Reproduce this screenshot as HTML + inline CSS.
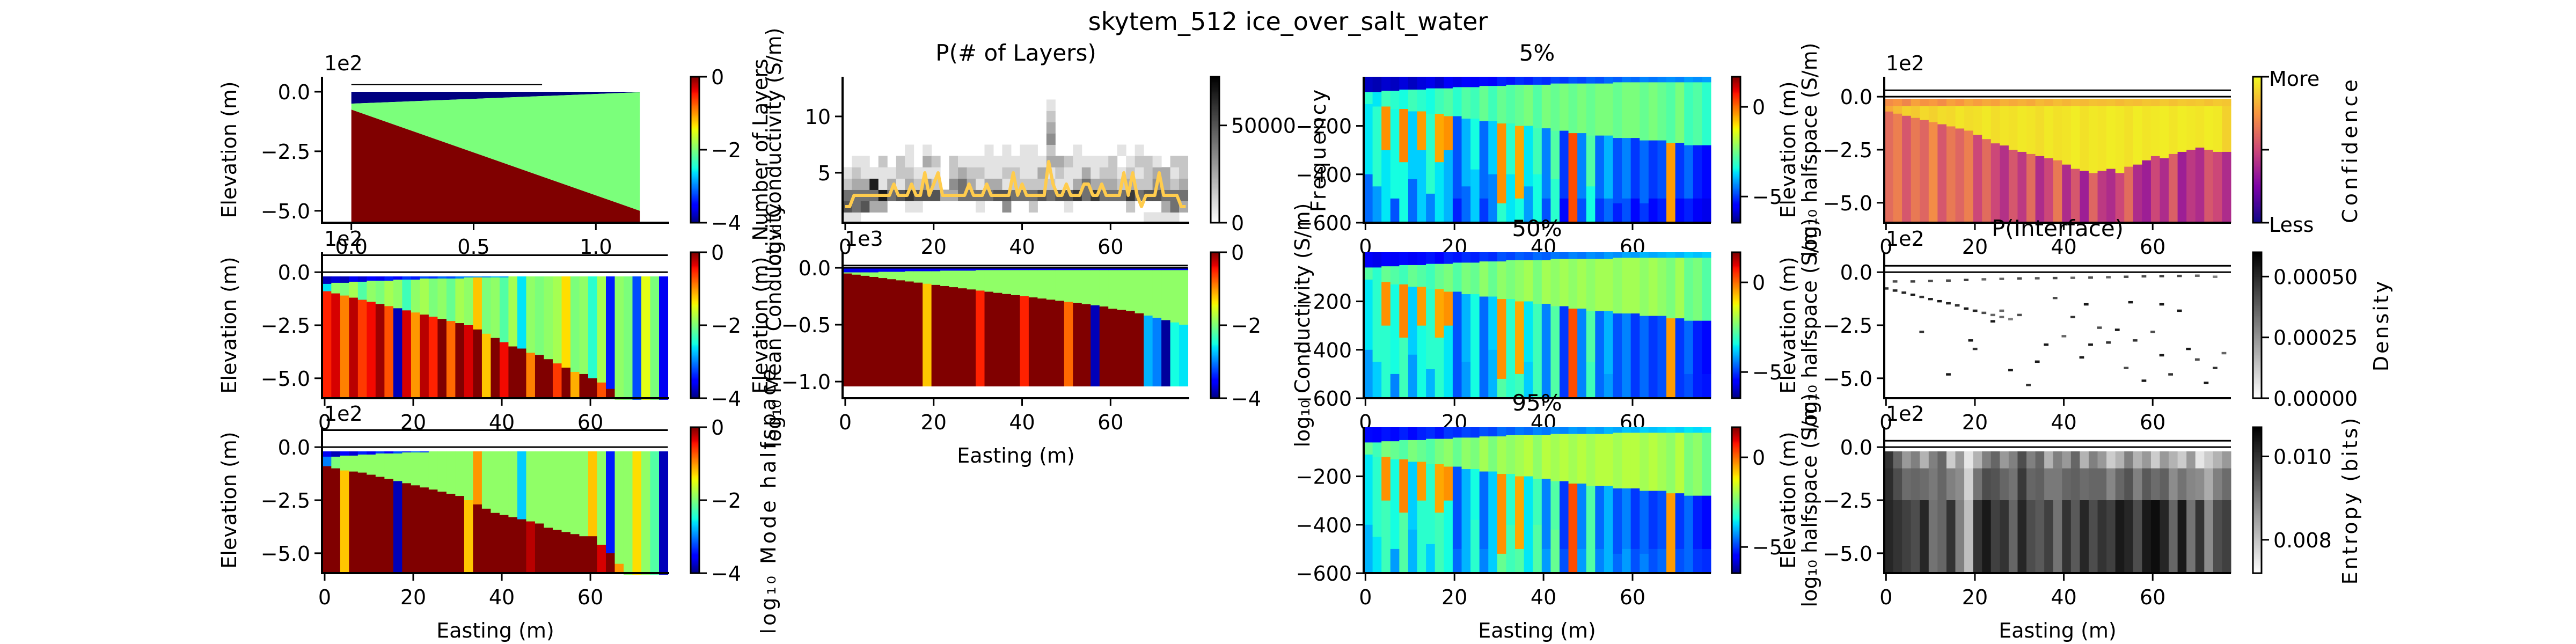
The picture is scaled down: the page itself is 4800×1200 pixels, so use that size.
<!DOCTYPE html>
<html><head><meta charset="utf-8"><style>
html,body{margin:0;padding:0;background:#fff}
svg{display:block}
text{font-family:"DejaVu Sans","Liberation Sans",sans-serif;fill:#000}
</style></head><body>
<svg id="fig" width="4800" height="1200" viewBox="0 0 4800 1200" xmlns="http://www.w3.org/2000/svg">
<rect width="4800" height="1200" fill="#fff"/>
<g id="layer"></g>
<g id="labels" font-size="38">
<text x="2400" y="56" font-size="46" text-anchor="middle">skytem_512 ice_over_salt_water</text>
<text x="1893" y="113" font-size="42" text-anchor="middle">P(# of Layers)</text>
<text x="2864" y="113" font-size="42" text-anchor="middle">5%</text>
<text x="2864" y="440" font-size="42" text-anchor="middle">50%</text>
<text x="2864" y="765" font-size="42" text-anchor="middle">95%</text>
<text x="3834" y="440" font-size="42" text-anchor="middle">P(Interface)</text>
<text x="604" y="131">1e2</text>
<text x="604" y="458">1e2</text>
<text x="604" y="784">1e2</text>
<text x="1574" y="458">1e3</text>
<text x="3514" y="131">1e2</text>
<text x="3514" y="458">1e2</text>
<text x="3514" y="784">1e2</text>
<text transform="translate(440,279) rotate(-90)" text-anchor="middle">Elevation (m)</text>
<text transform="translate(440,606) rotate(-90)" text-anchor="middle">Elevation (m)</text>
<text transform="translate(440,932) rotate(-90)" text-anchor="middle">Elevation (m)</text>
<text transform="translate(1430,279) rotate(-90)" text-anchor="middle">Number of Layers</text>
<text transform="translate(1455,279) rotate(-90)" text-anchor="middle">log₁₀ Conductivity (S/m)</text>
<text transform="translate(1430,606) rotate(-90)" text-anchor="middle">Elevation (m)</text>
<text transform="translate(1455,606) rotate(-90)" text-anchor="middle">log₁₀ Mean Conductivity</text>
<text transform="translate(1445,932) rotate(-90)" text-anchor="middle" letter-spacing="5">log₁₀ Mode halfspace</text>
<text transform="translate(2470,279) rotate(-90)" text-anchor="middle" letter-spacing="4">Frequency</text>
<text transform="translate(2440,606) rotate(-90)" text-anchor="middle">log₁₀ Conductivity (S/m)</text>
<text transform="translate(3345,279) rotate(-90)" text-anchor="middle">Elevation (m)</text>
<text transform="translate(3385,279) rotate(-90)" text-anchor="middle">log₁₀ halfspace (S/m)</text>
<text transform="translate(3345,606) rotate(-90)" text-anchor="middle">Elevation (m)</text>
<text transform="translate(3385,606) rotate(-90)" text-anchor="middle">log₁₀ halfspace (S/m)</text>
<text transform="translate(3345,932) rotate(-90)" text-anchor="middle">Elevation (m)</text>
<text transform="translate(3385,932) rotate(-90)" text-anchor="middle">log₁₀ halfspace (S/m)</text>
<text transform="translate(4392,279) rotate(-90)" text-anchor="middle" letter-spacing="6">Confidence</text>
<text transform="translate(4450,606) rotate(-90)" text-anchor="middle" letter-spacing="4">Density</text>
<text transform="translate(4392,932) rotate(-90)" text-anchor="middle" letter-spacing="4">Entropy (bits)</text>
<text x="4228" y="160">More</text>
<text x="4228" y="432">Less</text>
<text x="923" y="1188" text-anchor="middle">Easting (m)</text>
<text x="1893" y="862" text-anchor="middle">Easting (m)</text>
<text x="2864" y="1188" text-anchor="middle">Easting (m)</text>
<text x="3834" y="1188" text-anchor="middle">Easting (m)</text>
</g>
</svg>
<script>
// ---------- data ----------
const trueX = [0, 1.18];
const trueIceBottom = [-0.5, -0.02];
const trueSaltTop = [-0.75, -5.0];
const modelLineY = 0.3;

const layerCounts = [2,2,3,3,3,3,3,3,3,3,3,4,3,3,3,4,3,3,5,3,4,5,3,3,3,3,3,3,4,3,3,3,4,3,3,3,3,3,5,3,4,3,3,3,3,3,6,4,3,3,4,3,3,3,4,4,3,3,4,3,3,3,3,5,3,5,3,2,3,3,3,5,3,3,3,3,2,2];
const histBins = [1,2,3,4,5,6,7,8,9,10,11];
const hist1  = "110000000000000000000000000000000011110";
const hist2  = "656330011000000100400200010000002000353";
const hist3  = "555585676663355556655565667575557566555";
const hist4  = "233813132420453133122222113533323224323";
const hist5  = "121111221110232211221131211312212123312";
const hist6  = "011020210320211111111113321111201221022";
const hist7  = "000000010100000010101102001000010100000";
const hist8  = "000000000000000000000004000000000000000";
const hist9  = "000000000000000000000003000000000000000";
const hist10 = "000000000000000000000002000000000000000";
const hist11 = "000000000000000000000001000000000000000";

// mean model (col1 row2), units 1e2 m, 2-m columns
const meanTop = [-0.55,-0.5,-0.5,-0.45,-0.45,-0.4,-0.4,-0.4,-0.35,-0.35,-0.35,-0.3,-0.3,-0.3,-0.3,-0.3,-0.25,-0.25,-0.25,-0.25,-0.25,-0.2,-0.2,-0.2,-0.2,-0.2,-0.2,-0.2,-0.2,-0.2,-0.2,-0.2,-0.2,-0.2,-0.2,-0.2,-0.2,-0.2,-0.2];
const meanTopVal = [-3.8,-3.7,-3.8,-3.6,-3.7,-3.5,-3.6,-3.4,-3.5,-3.3,-3.4,-3.2,-3.3,-3.1,-3.2,-3.0,-3.0,-2.9,-3.0,-2.8,-2.9,-2.8,-2.7,-2.8,-2.6,-2.7,-2.6,-2.6,-2.5,-2.6,-2.4,-2.5,-2.4,-2.5,-2.4,-2.3,-2.4,-2.3,-2.3];
const meanIface = [-0.9,-1.0,-1.1,-1.2,-1.3,-1.4,-1.5,-1.6,-1.7,-1.8,-1.9,-2.0,-2.1,-2.2,-2.3,-2.4,-2.5,-2.7,-2.9,-3.1,-3.3,-3.5,-3.6,-3.8,-3.9,-4.1,-4.3,-4.5,-4.7,-4.8,-5.0,-5.2,-5.5,-6,-6,-6,-6,-6,-6];
const meanMid = [-2.6,-1.9,-2.0,-1.8,-2.2,-1.9,-2.0,-1.8,-1.9,-2.3,-1.9,-1.8,-2.0,-1.9,-2.1,-1.8,-1.9,-1.2,-2.0,-1.9,-2.2,-1.8,-2.6,-1.9,-2.0,-1.9,-1.8,-1.3,-2.0,-1.9,-2.4,-1.8,-3.4,-1.9,-2.0,-3.2,-1.5,-2.0,-3.6];
const meanDeep = [-0.5,-0.3,-0.9,-0.2,-0.6,-0.4,-0.1,-0.7,-3.8,-0.3,-1.0,-0.2,-0.5,0,-0.8,0,-0.3,0,-1.2,0,-0.4,0,0,-0.9,0,0,-0.6,0,-1.1,0,0,-0.7,0,-1,-1,-1,-1,-1,-1];

// mode model (col1 row3)
const modeTop = [-0.45,-0.45,-0.4,-0.4,-0.35,-0.35,-0.3,-0.3,-0.3,-0.25,-0.25,-0.25,-0.2,-0.2,-0.2,-0.2,-0.2,-0.2,-0.2,-0.2,-0.2,-0.2,-0.2,-0.2,-0.2,-0.2,-0.2,-0.2,-0.2,-0.2,-0.2,-0.2,-0.2,-0.2,-0.2,-0.2,-0.2,-0.2,-0.2];
const modeTopVal = [-3.6,-3.8,-3.5,-3.7,-3.4,-3.6,-3.3,-3.5,-3.2,-3.4,-3.1,-3.3,-3.0,-3.2,-2.9,-3.0,-2.8,-2.9,-2.7,-2.8,-2.6,-2.7,-2.6,-2.5,-2.6,-2.4,-2.5,-2.4,-2.3,-2.4,-2.3,-2.3,-2.2,-2.3,-2.2,-2.2,-2.1,-2.2,-2.1];
const modeIface = [-0.9,-1.0,-1.1,-1.15,-1.2,-1.3,-1.4,-1.5,-1.6,-1.7,-1.8,-1.9,-2.0,-2.1,-2.2,-2.3,-2.5,-2.7,-2.9,-3.1,-3.2,-3.3,-3.4,-3.5,-3.6,-3.8,-3.9,-4.0,-4.1,-4.2,-4.2,-4.6,-5.0,-5.5,-6,-6,-6,-6,-6];
const modeMid = [-3.0,-2.0,-1.9,-1.9,-1.9,-1.9,-1.9,-1.9,-1.9,-1.9,-1.9,-1.9,-1.9,-1.9,-1.9,-1.9,-1.9,-1.0,-1.9,-1.9,-1.9,-1.9,-2.7,-1.9,-1.9,-1.9,-1.9,-1.9,-1.9,-1.9,-1.2,-1.9,-3.4,-1.9,-1.9,-1.3,-1.9,-2.2,-3.8];
const modeDeep = [0,0,-1.2,0,0,0,0,0,-3.8,0,0,0,0,0,0,0,-1.2,0,0,0,0,0,0,-0.2,0,0,0,0,0,0,0,-0.3,0,-1,-1,-1,-1,-1,-1];

// mean conductivity (col2 row2), units 1e3 m
const m2Top = [-0.04,-0.04,-0.04,-0.04,-0.035,-0.035,-0.035,-0.03,-0.03,-0.03,-0.03,-0.025,-0.025,-0.025,-0.025,-0.02,-0.02,-0.02,-0.02,-0.02,-0.02,-0.02,-0.02,-0.02,-0.02,-0.02,-0.02,-0.02,-0.02,-0.02,-0.02,-0.02,-0.02,-0.02,-0.02,-0.02,-0.02,-0.02,-0.02];
const m2Iface = [-0.05,-0.06,-0.07,-0.08,-0.09,-0.1,-0.11,-0.12,-0.13,-0.14,-0.15,-0.16,-0.17,-0.18,-0.19,-0.2,-0.21,-0.22,-0.23,-0.24,-0.25,-0.26,-0.27,-0.28,-0.29,-0.3,-0.31,-0.32,-0.33,-0.34,-0.36,-0.37,-0.38,-0.4,-0.42,-0.44,-0.46,-0.48,-0.5];
const m2Deep = [0,0,0,0,0,0,0,0,0,-1.2,0,0,0,0,0,-0.5,0,0,0,0,-0.5,0,0,0,0,-0.8,0,0,-3.8,0,0,0,0,0,-2.8,-3.0,-3.9,-2.5,-2.6];

// percentile panels (col3), metres
const pTop = [-60,-60,-55,-55,-50,-50,-50,-45,-45,-45,-40,-40,-40,-35,-35,-35,-30,-30,-30,-30,-30,-25,-25,-25,-25,-25,-25,-25,-20,-20,-20,-20,-20,-20,-20,-20,-20,-20,-20];
const pTopVal = [-5.8,-5.9,-5.7,-5.8,-5.6,-5.8,-5.6,-5.5,-5.7,-5.4,-5.5,-5.3,-5.4,-5.2,-5.3,-5.0,-5.1,-4.9,-5.0,-4.8,-4.9,-4.7,-4.8,-4.6,-4.7,-4.5,-4.6,-4.4,-4.5,-4.3,-4.4,-4.2,-4.3,-4.2,-4.1,-4.2,-4.0,-4.1,-4.0];
const pIface = [-110,-120,-120,-130,-130,-140,-140,-150,-150,-160,-160,-170,-170,-180,-180,-190,-190,-200,-200,-210,-210,-220,-220,-230,-230,-240,-240,-240,-250,-250,-250,-260,-260,-260,-270,-270,-280,-280,-280];
const pMidVal = [-3.0,-3.4,-2.8,-3.0,-3.2,-2.8,-3.0,-3.2,-2.8,-2.6,-3.0,-2.6,-2.8,-2.4,-2.8,-2.4,-2.6,-2.4,-2.2,-2.6,-2.2,-2.4,-2.2,-2.4,-2.2,-2.4,-2.2,-2.2,-2.4,-2.2,-2.2,-2.4,-2.2,-2.4,-2.6,-2.2,-2.8,-2.6,-3.0];
const pStreakVal = [-3.6,-3.2,-0.3,-3.4,-0.2,-3.8,-0.4,-3.2,-0.5,-0.3,-4.8,-4.0,-3.4,-4.6,-3.8,-0.3,-3.2,-0.5,-3.6,-3.0,-4.4,-2.8,-5.0,0.3,-4.4,-2.8,-4.6,-4.0,-4.8,-4.4,-5.0,-4.6,-5.0,-4.8,-0.4,-5.0,-4.6,-5.2,-5.4];
const pStreakBot = [-400,-450,-300,-500,-350,-420,-300,-480,-350,-300,-500,-450,-380,-500,-400,-520,-400,-500,-450,-400,-500,-420,-500,-600,-500,-450,-500,-500,-520,-500,-500,-520,-500,-500,-600,-500,-500,-500,-500];
const pDeepVal = [-4.4,-4.0,-3.4,-4.6,-3.2,-4.4,-3.6,-4.2,-3.4,-3.8,-5.0,-4.4,-3.6,-4.8,-4.2,-3.0,-3.4,-3.2,-4.0,-3.2,-4.6,-3.0,-5.2,-3.6,-4.6,-3.2,-4.8,-4.4,-5.0,-4.6,-5.2,-4.8,-5.2,-5.0,-2.8,-5.2,-5.0,-5.4,-5.5];
const pShift5 = -0.2, pShift50 = 0.2, pShift95 = 0.4;

// confidence (col4 row1), plasma fraction
const confIface = [-0.7,-0.8,-0.9,-1.0,-1.1,-1.2,-1.3,-1.4,-1.5,-1.6,-1.8,-2.0,-2.2,-2.3,-2.5,-2.6,-2.7,-2.8,-2.9,-3.0,-3.2,-3.4,-3.5,-3.6,-3.5,-3.4,-3.6,-3.3,-3.2,-3.0,-2.8,-2.9,-2.7,-2.6,-2.5,-2.4,-2.5,-2.6,-2.6];
const confTopVal = [0.72,0.75,0.7,0.78,0.74,0.76,0.72,0.78,0.75,0.8,0.77,0.8,0.78,0.82,0.8,0.82,0.8,0.84,0.82,0.85,0.83,0.85,0.84,0.86,0.85,0.86,0.84,0.86,0.85,0.87,0.86,0.88,0.86,0.88,0.87,0.88,0.86,0.88,0.87];
const confMidVal = [0.8,0.85,0.9,0.88,0.92,0.9,0.93,0.92,0.95,0.93,0.94,0.96,0.93,0.95,0.94,0.96,0.95,0.93,0.96,0.94,0.95,0.97,0.94,0.96,0.95,0.97,0.96,0.94,0.97,0.95,0.96,0.97,0.95,0.97,0.96,0.95,0.97,0.96,0.9];
const confDeep = [0.62,0.68,0.55,0.66,0.6,0.72,0.55,0.66,0.6,0.68,0.5,0.62,0.5,0.42,0.55,0.45,0.62,0.4,0.5,0.66,0.4,0.55,0.35,0.6,0.45,0.4,0.5,0.62,0.4,0.35,0.5,0.4,0.58,0.35,0.45,0.4,0.55,0.5,0.4];

// interface density points (x, elevation 1e2 m, darkness)
const densX = [0,2,4,6,8,10,12,14,16,18,20,22,24,26,28, 2,6,10,14,18,22,26,30,34,38,42,46,50,54,58,62,66,70,74, 19,20,24,28,30,32,34,36,40,42,44,46,48,50,52,54,55,56,58,60,62,64,66,68,70,72,74,76,45,38,26,62,8,14];
const densY = [-0.75,-0.85,-0.95,-1.05,-1.15,-1.25,-1.35,-1.45,-1.55,-1.7,-1.8,-1.9,-2.0,-2.1,-2.2, -0.42,-0.42,-0.4,-0.38,-0.35,-0.32,-0.3,-0.28,-0.27,-0.26,-0.25,-0.24,-0.22,-0.2,-0.18,-0.17,-0.16,-0.15,-0.2, -3.2,-3.6,-2.3,-4.6,-2.0,-5.3,-4.2,-3.4,-3.0,-2.1,-4.0,-3.4,-2.6,-3.3,-2.7,-4.5,-1.4,-3.2,-5.1,-2.8,-3.9,-4.8,-1.8,-3.6,-4.1,-5.2,-4.5,-3.8,-1.5,-1.2,-1.8,-1.5,-2.8,-4.8];
const densV = [0.8,0.85,0.85,0.9,0.8,0.85,0.9,0.85,0.8,0.9,0.85,0.7,0.6,0.6,0.5, 0.7,0.75,0.7,0.7,0.75,0.6,0.6,0.7,0.65,0.7,0.6,0.7,0.6,0.7,0.7,0.75,0.7,0.6,0.5, 0.9,0.8,0.9,0.9,0.7,0.8,0.9,0.9,0.6,0.8,0.9,0.9,0.7,0.8,0.9,0.7,0.9,0.8,0.9,0.7,0.9,0.8,0.9,0.9,0.7,0.9,0.8,0.6,0.9,0.7,0.6,0.9,0.8,0.9];

// entropy (col4 row3), darkness
const entTop = [0.8,0.6,0.4,0.5,0.3,0.5,0.6,0.2,0.4,0.1,0.3,0.5,0.6,0.4,0.5,0.7,0.5,0.6,0.3,0.5,0.4,0.6,0.3,0.5,0.4,0.2,0.3,0.5,0.3,0.4,0.2,0.4,0.3,0.2,0.4,0.1,0.2,0.3,0.4];
const entBot = [0.85,0.8,0.75,0.7,0.85,0.55,0.6,0.8,0.5,0.25,0.8,0.9,0.75,0.8,0.6,0.85,0.7,0.65,0.75,0.55,0.8,0.65,0.85,0.7,0.8,0.75,0.9,0.85,0.7,0.9,0.95,0.85,0.6,0.9,0.55,0.8,0.45,0.7,0.75];

const eastTicks = [0,20,40,60];
const elevTicks = [0,-2.5,-5];
const elevTickLabels = ["0.0","\u22122.5","\u22125.0"];

// ---------- helpers ----------
const NS = "http://www.w3.org/2000/svg";
const root = document.getElementById('layer');
function el(tag, attrs, parent) {
  const e = document.createElementNS(NS, tag);
  for (const k in attrs) e.setAttribute(k, attrs[k]);
  (parent || root).appendChild(e);
  return e;
}
function interp(stops, t) {
  t = Math.max(0, Math.min(1, t));
  for (let i = 1; i < stops.length; i++) {
    if (t <= stops[i][0]) {
      const a = stops[i-1], b = stops[i];
      const f = (t - a[0]) / (b[0] - a[0] || 1);
      return a[1] + f * (b[1] - a[1]);
    }
  }
  return stops[stops.length-1][1];
}
const JR = [[0,0],[0.35,0],[0.66,1],[0.89,1],[1,0.5]];
const JG = [[0,0],[0.125,0],[0.375,1],[0.64,1],[0.91,0],[1,0]];
const JB = [[0,0.5],[0.11,1],[0.34,1],[0.65,0],[1,0]];
function jet(t) {
  return `rgb(${Math.round(255*interp(JR,t))},${Math.round(255*interp(JG,t))},${Math.round(255*interp(JB,t))})`;
}
const PL = [[0,[13,8,135]],[0.25,[126,3,168]],[0.5,[204,71,120]],[0.75,[248,149,64]],[1,[240,249,33]]];
function plasma(t) {
  t = Math.max(0, Math.min(1, t));
  for (let i = 1; i < PL.length; i++) if (t <= PL[i][0]) {
    const f = (t - PL[i-1][0]) / (PL[i][0] - PL[i-1][0]);
    const c = PL[i-1][1].map((v, j) => Math.round(v + f * (PL[i][1][j] - v)));
    return `rgb(${c[0]},${c[1]},${c[2]})`;
  }
  return 'rgb(240,249,33)';
}
function grayR(d) { const v = Math.round(255 * (1 - Math.max(0, Math.min(1, d)))); return `rgb(${v},${v},${v})`; }

function makeAxes(px0, px1, py0, py1, xa, xb, ya, yb) {
  return {
    px0, px1, py0, py1,
    sx: v => px0 + (v - xa) / (xb - xa) * (px1 - px0),
    sy: v => py0 + (v - ya) / (yb - ya) * (py1 - py0)
  };
}
function spines(ax, name) {
  const s1 = el('line', {x1: ax.px0, y1: ax.py0, x2: ax.px0, y2: ax.py1 + 2, stroke: '#000', 'stroke-width': 4});
  
  
  const s2 = el('line', {x1: ax.px0 - 2, y1: ax.py1, x2: ax.px1, y2: ax.py1, stroke: '#000', 'stroke-width': 4});
  
  
}
function xticks(ax, vals, labels, showLabels, name) {
  vals.forEach((v, i) => {
    const x = ax.sx(v);
    const t = el('line', {x1: x, y1: ax.py1, x2: x, y2: ax.py1 + 14, stroke: '#000', 'stroke-width': 3});
    
    
    if (showLabels) {
      const tx = el('text', {x: x, y: ax.py1 + 58, 'font-size': 38, 'text-anchor': 'middle'});
      tx.textContent = labels[i];
      
      
    }
  });
}
function yticks(ax, vals, labels, name) {
  vals.forEach((v, i) => {
    const y = ax.sy(v);
    const t = el('line', {x1: ax.px0 - 14, y1: y, x2: ax.px0, y2: y, stroke: '#000', 'stroke-width': 3});
    
    
    const tx = el('text', {x: ax.px0 - 22, y: y + 14, 'font-size': 38, 'text-anchor': 'end'});
    tx.textContent = labels[i];
    
    
  });
}
function colorbar(x, y0, y1, cmap, vmin, vmax, ticks, labels, name) {
  const n = 120, h = (y1 - y0) / n;
  for (let i = 0; i < n; i++) {
    const r = el('rect', {x: x, y: y1 - (i + 1) * h, width: 16, height: h + 0.6, fill: cmap((i + 0.5) / n)});
    
    
  }
  const b = el('rect', {x: x, y: y0, width: 16, height: y1 - y0, fill: 'none', stroke: '#000', 'stroke-width': 3});
  
  
  ticks.forEach((v, i) => {
    const y = y1 - (v - vmin) / (vmax - vmin) * (y1 - y0);
    const t = el('line', {x1: x + 16, y1: y, x2: x + 30, y2: y, stroke: '#000', 'stroke-width': 3});
    
    
    if (labels[i] !== '') {
      const tx = el('text', {x: x + 38, y: y + 14, 'font-size': 38});
      tx.textContent = labels[i];
      
      
    }
  });
}
function cell(ax, x0, x1, ytop, ybot, fill, name) {
  const X0 = ax.sx(x0), X1 = ax.sx(x1), Y0 = ax.sy(ytop), Y1 = ax.sy(ybot);
  if (Y1 <= Y0) return;
  const r = el('rect', {x: X0, y: Y0, width: X1 - X0 + 0.5, height: Y1 - Y0 + 0.5, fill: fill});
  
  
}
function hline(ax, y, x0, x1, w, name) {
  const l = el('line', {x1: ax.sx(x0), y1: ax.sy(y), x2: ax.sx(x1), y2: ax.sy(y), stroke: '#000', 'stroke-width': w});
  
  
}
const ROWS = [[143, 415], [470, 742], [796, 1068]];
const colW = 2;
const jet4 = v => jet((v + 4) / 4);

// ---------- col1 row1: true model ----------
(function () {
  const ax = makeAxes(600, 1247, 143, 415, -0.12, 1.30, 0.63, -5.5);
  const P = (xs, ys) => xs.map((x, i) => ax.sx(x) + ',' + ax.sy(ys[i])).join(' ');
  let p = el('polygon', {points: P([trueX[0], trueX[1], trueX[1], trueX[0]], [0, 0, trueIceBottom[1], trueIceBottom[0]]), fill: jet(0)});
   
  p = el('polygon', {points: P([trueX[0], trueX[1], trueX[1], trueX[0]], [trueIceBottom[0], trueIceBottom[1], trueSaltTop[1], trueSaltTop[0]]), fill: jet(0.5)});
   
  p = el('polygon', {points: P([trueX[0], trueX[1], trueX[1], trueX[0]], [trueSaltTop[0], trueSaltTop[1], -5.5, -5.5]), fill: jet(1)});
   
  hline(ax, modelLineY, 0, 0.78, 2, 'true-model-line');
  spines(ax, 'true-model');
  xticks(ax, [0, 0.5, 1.0], ['0.0', '0.5', '1.0'], true, 'true-model');
  yticks(ax, elevTicks, elevTickLabels, 'true-model');
  colorbar(1287, 143, 415, jet, -4, 0, [0, -2, -4], ['0', '\u22122', '\u22124'], 'true-model-colorbar');
})();

// ---------- layered jet panels (col1 rows 2,3) ----------
function layeredPanel(row, top, topVal, iface, mid, deep, name) {
  const ax = makeAxes(600, 1247, ROWS[row][0], ROWS[row][1], -0.6, 77.8, 0.94, -5.94);
  top.forEach((d, i) => {
    const x0 = i * colW - 0.5, x1 = x0 + colW;
    cell(ax, x0, x1, -0.2, d, jet4(topVal[i]), name + '-top-cell');
    cell(ax, x0, x1, d, iface[i], jet4(mid[i]), name + '-mid-cell');
    cell(ax, x0, x1, iface[i], -5.94, jet4(deep[i]), name + '-deep-cell');
  });
  hline(ax, 0.8, -0.5, 77.5, 3, name + '-line-top');
  hline(ax, 0, -0.5, 77.5, 3, name + '-line-zero');
  spines(ax, name);
  xticks(ax, eastTicks, eastTicks.map(String), true, name);
  yticks(ax, elevTicks, elevTickLabels, name);
  colorbar(1287, ROWS[row][0], ROWS[row][1], jet, -4, 0, [0, -2, -4], ['0', '\u22122', '\u22124'], name + '-colorbar');
}
layeredPanel(1, meanTop, meanTopVal, meanIface, meanMid, meanDeep, 'mean-model');
layeredPanel(2, modeTop, modeTopVal, modeIface, modeMid, modeDeep, 'mode-model');

// ---------- col2 row1: layer histogram ----------
(function () {
  const ax = makeAxes(1570, 2216, 143, 415, -0.6, 77.8, 13.52, 0.57);
  const hists = [hist1, hist2, hist3, hist4, hist5, hist6, hist7, hist8, hist9, hist10, hist11];
  hists.forEach((s, b) => {
    for (let i = 0; i < s.length; i++) {
      const d = +s[i];
      if (d === 0) continue;
      cell(ax, i * colW - 0.5, i * colW + 1.5, histBins[b] + 0.5, histBins[b] - 0.5, grayR(d / 9), 'layer-hist-cell');
    }
  });
  const pts = layerCounts.map((v, i) => ax.sx(i) + ',' + ax.sy(v)).join(' ');
  const pl = el('polyline', {points: pts, fill: 'none', stroke: '#ffcc4d', 'stroke-width': 6, 'stroke-linejoin': 'round'});
  
  
  spines(ax, 'layer-hist');
  xticks(ax, eastTicks, eastTicks.map(String), true, 'layer-hist');
  yticks(ax, [5, 10], ['5', '10'], 'layer-hist');
  colorbar(2256, 143, 415, t => grayR(t), 0, 75000, [0, 50000], ['0', '50000'], 'layer-hist-colorbar');
})();

// ---------- col2 row2: mean conductivity ----------
(function () {
  const ax = makeAxes(1570, 2216, 470, 742, -0.6, 77.8, 0.137, -1.146);
  m2Iface.forEach((d, i) => {
    const x0 = i * colW - 0.5, x1 = x0 + colW;
    cell(ax, x0, x1, 0, m2Top[i], jet4(-3.6), 'mean-cond-top-cell');
    cell(ax, x0, x1, m2Top[i], d, jet4(-1.9), 'mean-cond-mid-cell');
    cell(ax, x0, x1, d, -1.04, jet4(m2Deep[i]), 'mean-cond-deep-cell');
  });
  hline(ax, 0.02, -0.5, 77.5, 3, 'mean-cond-line-top');
  hline(ax, 0, -0.5, 77.5, 3, 'mean-cond-line-zero');
  spines(ax, 'mean-cond');
  xticks(ax, eastTicks, eastTicks.map(String), true, 'mean-cond');
  yticks(ax, [0, -0.5, -1.0], ['0.0', '\u22120.5', '\u22121.0'], 'mean-cond');
  colorbar(2256, 470, 742, jet, -4, 0, [0, -2, -4], ['0', '\u22122', '\u22124'], 'mean-cond-colorbar');
})();

// ---------- col3: percentile panels ----------
function percentilePanel(row, shift, name) {
  const ax = makeAxes(2541, 3188, ROWS[row][0], ROWS[row][1], -0.4, 77.6, 3, -600);
  const cm = v => jet((v + 6.46) / 8.14);
  pTop.forEach((d, i) => {
    const x0 = i * colW - 0.4, x1 = x0 + colW;
    cell(ax, x0, x1, 3, d, cm(pTopVal[i] + shift), name + '-top-cell');
    cell(ax, x0, x1, d, pIface[i], cm(pMidVal[i] + shift), name + '-mid-cell');
    cell(ax, x0, x1, pIface[i], pStreakBot[i], cm(pStreakVal[i]), name + '-streak-cell');
    cell(ax, x0, x1, pStreakBot[i], -600, cm(pDeepVal[i] + shift), name + '-deep-cell');
  });
  spines(ax, name);
  xticks(ax, eastTicks, eastTicks.map(String), true, name);
  yticks(ax, [-200, -400, -600], ['\u2212200', '\u2212400', '\u2212600'], name);
  colorbar(3227, ROWS[row][0], ROWS[row][1], jet, -6.46, 1.68, [0, -5], ['0', '\u22125'], name + '-colorbar');
}
percentilePanel(0, pShift5, 'p5');
percentilePanel(1, pShift50, 'p50');
percentilePanel(2, pShift95, 'p95');

// ---------- col4 row1: confidence ----------
(function () {
  const ax = makeAxes(3511, 4157, 143, 415, -0.4, 77.6, 0.94, -5.94);
  confIface.forEach((d, i) => {
    const x0 = i * colW - 0.4, x1 = x0 + colW;
    cell(ax, x0, x1, -0.1, -0.45, plasma(confTopVal[i]), 'confidence-top-cell');
    cell(ax, x0, x1, -0.45, d, plasma(confMidVal[i]), 'confidence-mid-cell');
    cell(ax, x0, x1, d, -5.94, plasma(confDeep[i]), 'confidence-deep-cell');
  });
  hline(ax, 0.3, -0.4, 77.6, 3, 'confidence-line-top');
  hline(ax, 0, -0.4, 77.6, 3, 'confidence-line-zero');
  spines(ax, 'confidence');
  xticks(ax, eastTicks, eastTicks.map(String), true, 'confidence');
  yticks(ax, elevTicks, elevTickLabels, 'confidence');
  colorbar(4198, 143, 415, plasma, 0, 1, [0, 0.5, 1], ['', '', ''], 'confidence-colorbar');
})();

// ---------- col4 row2: interface density ----------
(function () {
  const ax = makeAxes(3511, 4157, 470, 742, -0.4, 77.6, 0.94, -5.94);
  densX.forEach((x, i) => {
    cell(ax, x - 0.5, x + 0.5, densY[i] + 0.04, densY[i] - 0.06, grayR(densV[i]), 'interface-density-cell');
  });
  hline(ax, 0.3, -0.4, 77.6, 3, 'density-line-top');
  hline(ax, 0, -0.4, 77.6, 3, 'density-line-zero');
  spines(ax, 'density');
  xticks(ax, eastTicks, eastTicks.map(String), true, 'density');
  yticks(ax, elevTicks, elevTickLabels, 'density');
  colorbar(4198, 470, 742, t => grayR(t), 0, 0.0006, [0, 0.00025, 0.0005], ['0.00000', '0.00025', '0.00050'], 'density-colorbar');
})();

// ---------- col4 row3: entropy ----------
(function () {
  const ax = makeAxes(3511, 4157, 796, 1068, -0.4, 77.6, 0.94, -5.94);
  entTop.forEach((d, i) => {
    const x0 = i * colW - 0.4, x1 = x0 + colW;
    cell(ax, x0, x1, -0.2, -1.0, grayR(d), 'entropy-top-cell');
    cell(ax, x0, x1, -1.0, -2.5, grayR((d + entBot[i]) / 2), 'entropy-mid-cell');
    cell(ax, x0, x1, -2.5, -5.94, grayR(entBot[i]), 'entropy-deep-cell');
  });
  hline(ax, 0.3, -0.4, 77.6, 3, 'entropy-line-top');
  hline(ax, 0, -0.4, 77.6, 3, 'entropy-line-zero');
  spines(ax, 'entropy');
  xticks(ax, eastTicks, eastTicks.map(String), true, 'entropy');
  yticks(ax, elevTicks, elevTickLabels, 'entropy');
  colorbar(4198, 796, 1068, t => grayR(t), 0.0072, 0.0107, [0.008, 0.010], ['0.008', '0.010'], 'entropy-colorbar');
})();
</script>
</body></html>
